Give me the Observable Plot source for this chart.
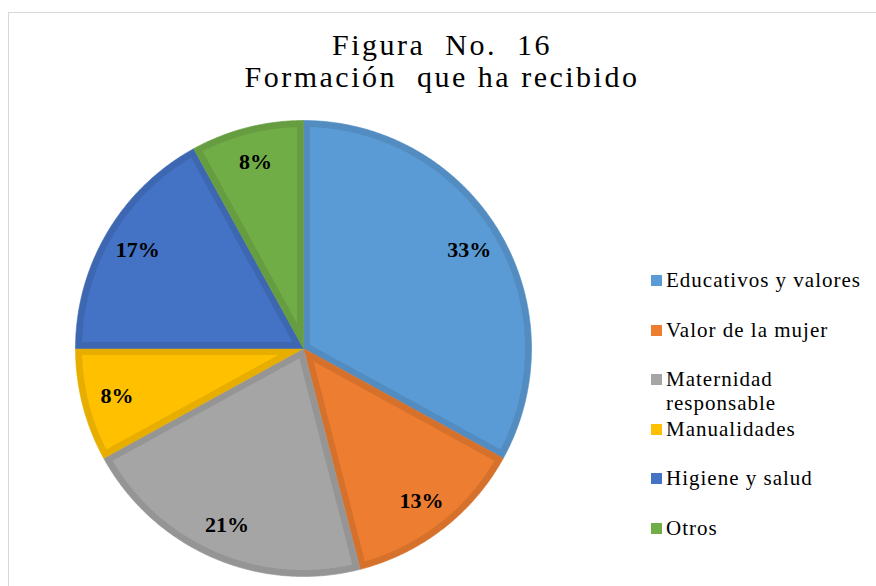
<!DOCTYPE html>
<html>
<head>
<meta charset="utf-8">
<script src="https://cdn.jsdelivr.net/npm/d3@7"></script>
<script src="https://cdn.jsdelivr.net/npm/@observablehq/plot@0.6"></script>
<style>
  body { margin: 0; background: #fff; }
  #wrap { position: relative; width: 876px; height: 586px; overflow: hidden; background: #fff; }
  #chart { position: absolute; left: 0; top: 0; }
  #frame { position: absolute; left: 8px; top: 12px; width: 920px; height: 640px; border: 1.5px solid #d9d9d9; pointer-events: none; }
  #title { position: absolute; left: 4px; top: 29px; width: 876px; text-align: center;
           font-family: "Liberation Serif", "Times New Roman", Tinos, "DejaVu Serif", "Noto Serif", serif; font-size: 30px; line-height: 32px;
           letter-spacing: 2.5px; white-space: pre; color: #000; }
  .leg { position: absolute; left: 666px; width: 210px; font-family: "Liberation Serif", "Times New Roman", Tinos, "DejaVu Serif", "Noto Serif", serif;
         font-size: 21px; line-height: 24px; letter-spacing: 1px; color: #000; }
  .sw { position: absolute; left: 651px; width: 11px; height: 11px; }
</style>
</head>
<body>
<div id="wrap">
  <div id="chart"></div>
  <div id="frame"></div>
  <div id="title"></div>
  <div id="legend"></div>
</div>
<script>
const titleLines = ["Figura  No.  16", "Formación  que ha recibido"];
const categories = ["Educativos y valores", "Valor de la mujer", "Maternidad responsable", "Manualidades", "Higiene y salud", "Otros"];
const percents = [33, 13, 21, 8, 17, 8];
const colors = ["#5B9BD5", "#ED7D31", "#A5A5A5", "#FFC000", "#4472C4", "#70AD47"];

const data = categories.map((c, i) => ({category: c, value: percents[i], color: colors[i]}));
const border = data.map(d => d3.color(d.color).darker(0.28).formatHex());

const slices = d3.pie().sort(null).value(d => d.value).startAngle(0).endAngle(2 * Math.PI)(data);

const R = 1;
const inset = 6.5 / 228;
const pt = (a, r) => ({x: r * Math.sin(a), y: r * Math.cos(a)});

function arcPts(a0, a1, r) {
  const n = Math.max(2, Math.ceil((a1 - a0) / (Math.PI / 360)));
  const pts = [];
  for (let k = 0; k <= n; k++) pts.push(pt(a0 + (a1 - a0) * k / n, r));
  return pts;
}

const marks = [];
slices.forEach((s, i) => {
  const outer = [{x: 0, y: 0}, ...arcPts(s.startAngle, s.endAngle, R), {x: 0, y: 0}];
  marks.push(Plot.line(outer, {x: "x", y: "y", fill: border[i], stroke: border[i], strokeWidth: 0.6, curve: "linear"}));
  const theta = s.endAngle - s.startAngle;
  const mid = (s.startAngle + s.endAngle) / 2;
  const apex = pt(mid, inset / Math.sin(theta / 2));
  const da = Math.asin(inset / (R - inset));
  const inner = [apex, ...arcPts(s.startAngle + da, s.endAngle - da, R - inset), apex];
  marks.push(Plot.line(inner, {x: "x", y: "y", fill: s.data.color, stroke: "none", curve: "linear"}));
});

const labels = slices.map(s => {
  const mid = (s.startAngle + s.endAngle) / 2;
  const p = pt(mid, 0.845);
  return {x: p.x, y: p.y, text: s.data.value + "%"};
});
marks.push(Plot.text(labels, {x: "x", y: "y", text: "text", fontSize: 22, fontWeight: "bold",
  fontFamily: "'Liberation Serif', 'Times New Roman', Tinos, 'DejaVu Serif', 'Noto Serif', serif", fill: "#000"}));

const chart = Plot.plot({
  width: 876,
  height: 586,
  margin: 0,
  x: {domain: [-1, 1], range: [75, 531], axis: null},
  y: {domain: [-1, 1], range: [576, 120], axis: null},
  style: {background: "transparent"},
  marks
});
document.getElementById("chart").appendChild(chart);

document.getElementById("title").textContent = titleLines.join("\n");

const legend = document.getElementById("legend");
const step = 49.6;
categories.forEach((c, i) => {
  const baseline = 287 + i * step;
  const sw = document.createElement("div");
  sw.className = "sw";
  sw.style.top = (baseline - 12) + "px";
  sw.style.background = colors[i];
  legend.appendChild(sw);
  const t = document.createElement("div");
  t.className = "leg";
  t.style.top = (baseline - 19) + "px";
  t.textContent = c;
  legend.appendChild(t);
});
</script>
</body>
</html>
